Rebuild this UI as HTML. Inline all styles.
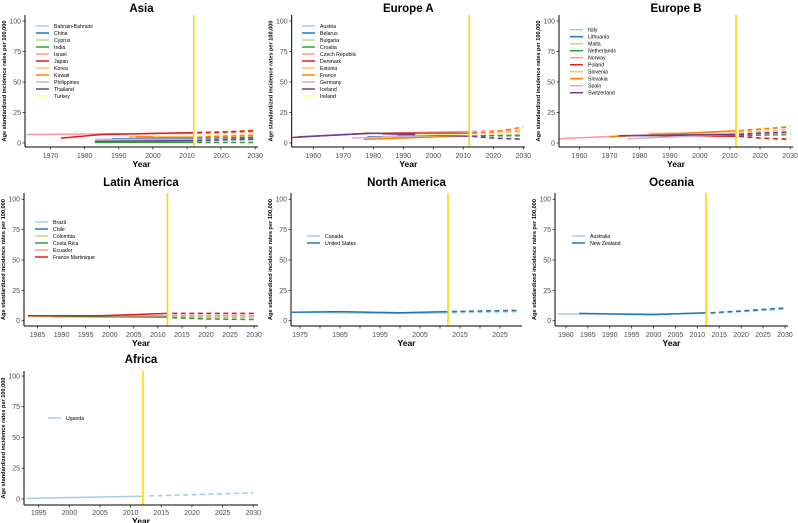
<!DOCTYPE html>
<html><head><meta charset="utf-8">
<style>
html,body{margin:0;padding:0;background:#fff;}
svg{display:block;font-family:"Liberation Sans",sans-serif;}
</style></head>
<body>
<svg id="chart" width="798" height="523" viewBox="0 0 798 523"></svg>
<script>
const COLORS = ["#a6cee3","#1f78b4","#b2df8a","#33a02c","#fb9a99","#e31a1c","#fdbf6f","#ff7f00","#cab2d6","#6a3d9a","#ffff99"];
const projYears = [2013, 2020, 2030];

const asiaNames = ["Bahrain-Bahraini","China","Cyprus","India","Israel","Japan","Korea","Kuwait","Philippines","Thailand","Turkey"];
const asiaObsYears = [[1998,2012],[1988,2012],[1998,2012],[1983,2012],[1963,1990,2012],[1973,1985,2012],[1993,2012],[1995,2012],[1983,2012],[1983,2012],[2000,2012]];
const asiaObsValues = [[3.5,3.5],[3.5,4],[5,5.5],[0.5,0.5],[7,7.5,8],[4,7,8.5],[5,5],[5,5],[3,3],[1.5,2],[6,6]];
const asiaProjValues = [[3.5,4,4],[4,4,4.5],[6,8,11],[0.5,0.5,0.5],[8,8.5,9],[8.5,9,10],[5,6,7],[5,5.5,6],[3,3,3],[2,2.5,3],[6,7,8]];

const euaNames = ["Austria","Belarus","Bulgaria","Croatia","Czech Republic","Denmark","Estonia","France","Germany","Iceland","Ireland"];
const euaObsYears = [[1983,2012],[1978,2012],[1993,2012],[1988,2012],[1983,2012],[1953,1978,2012],[1983,2012],[1977,2012],[1973,2012],[1955,1980,2012],[1994,2012]];
const euaObsValues = [[7,7],[5,6],[6,6],[6,6],[8,9.5],[4.5,8,8],[5,7],[3,6],[4,7],[5,8,5.5],[7,7]];
const euaProjValues = [[7,7.5,8],[6,6.5,7],[6,6.5,7],[6,6,6],[9.5,10,10],[8,8,8],[7,8,9],[6,9,13],[7,7.5,8],[5.5,4,3],[7,7.5,8]];

const eubNames = ["Italy","Lithuania","Malta","Netherlands","Norway","Poland","Slovenia","Slovakia","Spain","Switzerland"];
const eubObsYears = [[1976,2012],[1978,2012],[1993,2012],[1989,2012],[1953,1975,2012],[1988,2012],[1983,2012],[1970,2012],[1976,2012],[1973,2012]];
const eubObsValues = [[6,6.5],[6,6],[8,8],[7,7],[3.5,6,7],[6,5.5],[8,8],[5,10],[3.5,7],[6,7]];
const eubProjValues = [[6.5,7,8],[6,6.5,7],[8,11,14],[7,7,7],[7,7.5,8],[5.5,4,3],[8,9.5,11],[10,11.5,13],[7,7.5,8],[7,8,9]];

const latNames = ["Brazil","Chile","Colombia","Costa Rica","Ecuador","France Martinique"];
const latObsYears = [[1988,2012],[1998,2012],[1983,2012],[1983,2012],[1985,2012],[1983,1998,2012]];
const latObsValues = [[3,3],[4,4],[3.5,3.5],[4,3],[4,4],[4,4,6]];
const latProjValues = [[3,3,3],[4,4,4],[3.5,3,3],[2.5,1.5,1],[4,4,4],[6,6,6]];

const naNames = ["Canada","United States"];
const naObsYears = [[1973,2000,2012],[1973,1985,2000,2012]];
const naObsValues = [[7,6,6.5],[7,7.5,6.5,7.5]];
const naProjValues = [[6.5,7,7.5],[7.5,8,8.5]];

const ocNames = ["Australia","New Zealand"];
const ocObsYears = [[1978,2000,2012],[1983,2000,2012]];
const ocObsValues = [[5.5,5.5,6],[6,5,6.5]];
const ocProjValues = [[6,7.5,9.5],[6.5,8,10.5]];

const afNames = ["Uganda"];
const afObsYears = [[1993,2012]];
const afObsValues = [[0.5,2.3]];
const afProjValues = [[2.5,3.5,5]];

const yTicks = [0,25,50,75,100];

const NS = "http://www.w3.org/2000/svg";
const svg = document.getElementById("chart");
function mk(tag, attrs, parent){
  const e = document.createElementNS(NS, tag);
  for (const k in attrs) e.setAttribute(k, attrs[k]);
  (parent||svg).appendChild(e);
  return e;
}

const panels = [
 {key:"asia",title:"Asia",left:25,yMin:1962.5,ppy:3.41,right:258,top:15,bottom:147,y0:143,y100:21,ticks:[1970,1980,1990,2000,2010,2020,2030],titleY:12,tickY:158,yearY:167,legX:36,legY:26,legStep:7,names:asiaNames,oy:asiaObsYears,ov:asiaObsValues,pv:asiaProjValues},
 {key:"europe-a",title:"Europe A",left:291.7,yMin:1952.8,ppy:3.0,right:525,top:15,bottom:147,y0:143,y100:21,ticks:[1960,1970,1980,1990,2000,2010,2020,2030],titleY:12,tickY:158,yearY:167,legX:302,legY:26,legStep:7,names:euaNames,oy:euaObsYears,ov:euaObsValues,pv:euaProjValues},
 {key:"europe-b",title:"Europe B",left:559,yMin:1953.2,ppy:3.01,right:793,top:15,bottom:147,y0:143,y100:21,ticks:[1960,1970,1980,1990,2000,2010,2020,2030],titleY:12,tickY:158,yearY:167,legX:570,legY:29.7,legStep:7,names:eubNames,oy:eubObsYears,ov:eubObsValues,pv:eubProjValues},
 {key:"latin-america",title:"Latin America",left:24,yMin:1982.2,ppy:4.815,right:258,top:193,bottom:326,y0:320.7,y100:199.3,ticks:[1985,1990,1995,2000,2005,2010,2015,2020,2025,2030],titleY:186,tickY:337,yearY:346,legX:35,legY:222,legStep:7,names:latNames,oy:latObsYears,ov:latObsValues,pv:latProjValues},
 {key:"north-america",title:"North America",left:291,yMin:1972.75,ppy:4.0,right:522,top:193,bottom:326,y0:320.7,y100:199.3,ticks:[1975,1980,1985,1990,1995,2000,2005,2010,2015,2020,2025],labelEvery:2,titleY:186,tickY:337,yearY:346,legX:307,legY:236,legStep:7,names:naNames,oy:naObsYears,ov:naObsValues,pv:naProjValues},
 {key:"oceania",title:"Oceania",left:555,yMin:1977.5,ppy:4.38,right:788,top:193,bottom:326,y0:320.7,y100:199.3,ticks:[1980,1985,1990,1995,2000,2005,2010,2015,2020,2025,2030],titleY:186,tickY:337,yearY:346,legX:572,legY:236,legStep:7,names:ocNames,oy:ocObsYears,ov:ocObsValues,pv:ocProjValues},
 {key:"africa",title:"Africa",left:24,yMin:1992.6,ppy:6.13,right:258,top:371,bottom:505,y0:499,y100:376,ticks:[1995,2000,2005,2010,2015,2020,2025,2030],titleY:363,tickY:515,yearY:524,legX:48,legY:418,legStep:7,names:afNames,oy:afObsYears,ov:afObsValues,pv:afProjValues}
];

panels.forEach(p => {
  const xs = yr => p.left + (yr - p.yMin) * p.ppy;
  const ys = v => p.y0 - v * (p.y0 - p.y100) / 100;
  const g = mk("g", {});
  
  
  const cx = (p.left + p.right) / 2;
  const t = mk("text", {x:cx, y:p.titleY, "text-anchor":"middle", "font-size":"11.5", "font-weight":"bold", fill:"#000"}, g);
  t.textContent = p.title;
  
  
  // y axis title
  const yc = (p.top + p.bottom) / 2;
  const yt = mk("text", {x:0, y:0, transform:`translate(${p.left-19},${yc}) rotate(-90)`, "text-anchor":"middle", "font-size":"5.6", "font-weight":"bold", fill:"#000"}, g);
  yt.textContent = "Age standardized incidence rates per 100,000";
  
  
  // y ticks
  yTicks.forEach(v => {
    const y = ys(v);
    mk("line", {x1:p.left-2.5, x2:p.left, y1:y, y2:y, stroke:"#333", "stroke-width":0.8}, g);
    const l = mk("text", {x:p.left-4, y:y+2.4, "text-anchor":"end", "font-size":"7", fill:"#4d4d4d"}, g);
    l.textContent = v;
    
    
  });
  // x ticks
  p.ticks.forEach((yr, i) => {
    const x = xs(yr);
    mk("line", {x1:x, x2:x, y1:p.bottom, y2:p.bottom+2.5, stroke:"#333", "stroke-width":0.8}, g);
    if (!p.labelEvery || i % p.labelEvery === 0) {
      const l = mk("text", {x:x, y:p.tickY, "text-anchor":"middle", "font-size":"7", fill:"#4d4d4d"}, g);
      l.textContent = yr;
      
      
    }
  });
  const xt = mk("text", {x:cx, y:p.yearY, "text-anchor":"middle", "font-size":"8.5", "font-weight":"bold", fill:"#000"}, g);
  xt.textContent = "Year";
  
  
  // series
  p.names.forEach((nm, i) => {
    const c = COLORS[i];
    const obs = p.oy[i].map((yr, j) => xs(yr).toFixed(1) + "," + ys(p.ov[i][j]).toFixed(1)).join(" ");
    const ol = mk("polyline", {points:obs, fill:"none", stroke:c, "stroke-width":1.5}, g);
    
    
    const pr = projYears.map((yr, j) => xs(yr).toFixed(1) + "," + ys(p.pv[i][j]).toFixed(1)).join(" ");
    const pl = mk("polyline", {points:pr, fill:"none", stroke:c, "stroke-width":1.6, "stroke-dasharray":"5,3.5"}, g);
    
    
    // legend
    const ly = p.legY + i * p.legStep;
    const le = mk("line", {x1:p.legX, x2:p.legX+13, y1:ly, y2:ly, stroke:c, "stroke-width":1.5}, g);
    
    
    const lt = mk("text", {x:p.legX+18, y:ly+1.8, "font-size":"5.2", fill:"#000"}, g);
    lt.textContent = nm;
    
    
  });
  // yellow line at 2012
  const yl = mk("line", {x1:xs(2012), x2:xs(2012), y1:p.top, y2:p.bottom, stroke:"#ffd700", "stroke-width":1.6}, g);
  
  
  // axes
  mk("line", {x1:p.left, x2:p.left, y1:p.top, y2:p.bottom, stroke:"#000", "stroke-width":1}, g);
  mk("line", {x1:p.left, x2:p.right, y1:p.bottom, y2:p.bottom, stroke:"#000", "stroke-width":1}, g);
});
</script>
</body></html>
